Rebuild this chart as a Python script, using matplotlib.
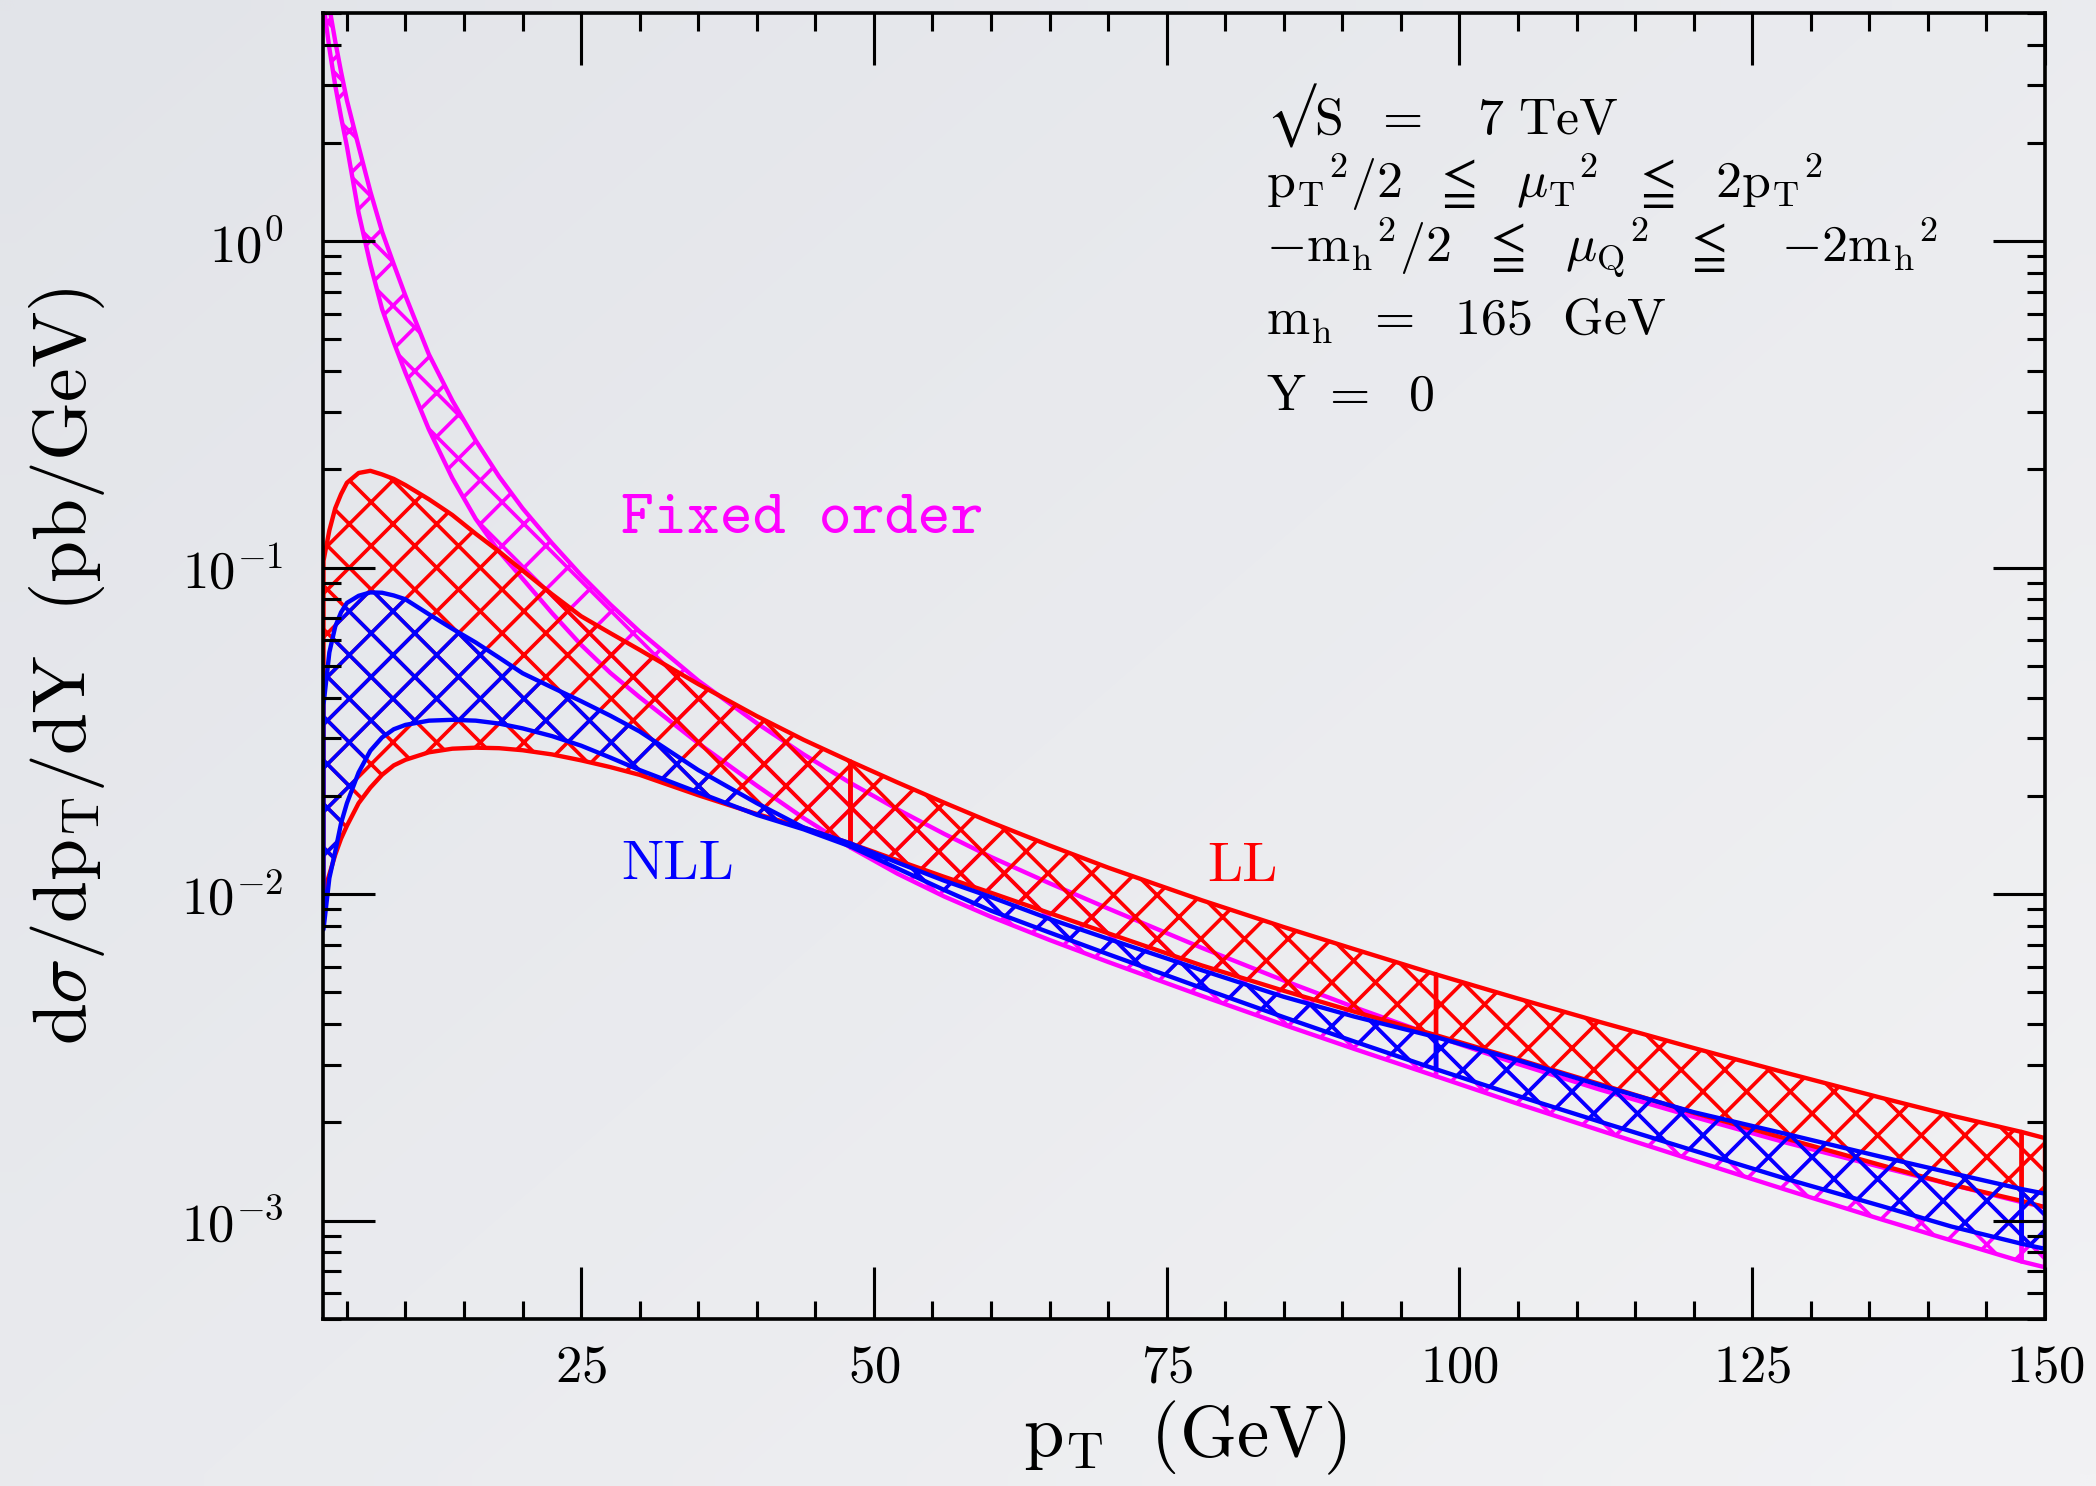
import numpy as np
import matplotlib
matplotlib.use('Agg')
import matplotlib.pyplot as plt
from matplotlib.ticker import MultipleLocator, LogLocator, FuncFormatter, NullFormatter

plt.rcParams['mathtext.fontset'] = 'cm'
plt.rcParams['hatch.linewidth'] = 2.0
plt.rcParams['axes.unicode_minus'] = False

# p_T grid (GeV)
pt = [3, 3.5, 4, 4.5, 5, 6, 7, 8, 9, 10, 12, 14, 16, 18, 20, 22.5, 25, 27.5, 30, 35,
      40, 44, 48, 52, 56, 60, 65, 70, 78, 85, 91, 98, 105, 112, 120, 128, 136, 142, 148, 150]

# fixed order band (pb/GeV)
fo_hi = [7.5, 5.2, 4.1, 3.3, 2.7, 1.95, 1.42, 1.07, 0.85, 0.68, 0.45, 0.325, 0.245, 0.19, 0.152,
         0.119, 0.0948, 0.0771, 0.0637, 0.0451, 0.0334, 0.0268, 0.0219, 0.0182, 0.0153, 0.0130,
         0.0108, 0.00904, 0.00685, 0.00544, 0.00451, 0.00367, 0.00302, 0.00252, 0.00208,
         0.00173, 0.00146, 0.00129, 0.00114, 0.00110]
fo_lo = [5.3, 3.9, 3.0, 2.4, 1.95, 1.22, 0.85, 0.62, 0.49, 0.395, 0.265, 0.188, 0.141, 0.112,
         0.0925, 0.0727, 0.058, 0.0476, 0.0401, 0.029, 0.0215, 0.0171, 0.0139, 0.01156, 0.00984,
         0.00853, 0.00724, 0.0062, 0.00488, 0.00398, 0.00336, 0.00277, 0.00228, 0.00189, 0.00153,
         0.00124, 0.00101, 0.00087, 0.00075, 0.00072]

# LL band
ll_hi = [0.105, 0.130, 0.152, 0.168, 0.182, 0.195, 0.198, 0.193, 0.187, 0.179, 0.162, 0.145,
         0.127, 0.112, 0.098, 0.083, 0.071, 0.063, 0.056, 0.0440, 0.0351, 0.0297, 0.0255,
         0.0220, 0.01907, 0.0166, 0.0141, 0.01206, 0.00958, 0.00793, 0.00679, 0.00568, 0.00479,
         0.00406, 0.00338, 0.00283, 0.00238, 0.00210, 0.00187, 0.00179]
ll_lo = [0.0100, 0.0115, 0.0132, 0.0148, 0.0162, 0.0190, 0.0212, 0.0232, 0.0248, 0.0258,
         0.0272, 0.0279, 0.0281, 0.0280, 0.0276, 0.0268, 0.0257, 0.0245, 0.0232, 0.0201,
         0.0176, 0.0160, 0.0143, 0.0127, 0.0113, 0.0101, 0.00875, 0.00759, 0.00605, 0.00506,
         0.00437, 0.00370, 0.00312, 0.00262, 0.00214, 0.00178, 0.00148, 0.00129, 0.00115, 0.00110]

# NLL band
nll_hi = [0.038, 0.055, 0.066, 0.073, 0.078, 0.082, 0.084, 0.0838, 0.0822, 0.080, 0.072, 0.065,
          0.059, 0.053, 0.0475, 0.043, 0.039, 0.0352, 0.0315, 0.0240, 0.0190, 0.0160, 0.0143,
          0.0125, 0.0110, 0.0098, 0.0084, 0.0073, 0.00585, 0.00485, 0.00422, 0.00365, 0.0031,
          0.0026, 0.00215, 0.00184, 0.00157, 0.00140, 0.00125, 0.00121]
nll_lo = [0.0078, 0.0112, 0.0135, 0.0165, 0.0190, 0.0236, 0.0275, 0.0302, 0.0320, 0.0330,
          0.0340, 0.0342, 0.0340, 0.0333, 0.0322, 0.0305, 0.0285, 0.0262, 0.0240, 0.0205,
          0.0175, 0.0158, 0.0140, 0.0120, 0.0103, 0.0089, 0.00763, 0.00655, 0.00516, 0.0042,
          0.00354, 0.00291, 0.00241, 0.00201, 0.00164, 0.00134, 0.00111, 0.00096, 0.00085, 0.00082]

# the bands are drawn in pieces that join here
seg_edges = [48, 98, 148]

MAGENTA = '#ff00ff'
RED = '#ff0000'
BLUE = '#0000ff'


def draw_band(ax, x, lo, hi, color):
    cuts = [0] + [x.index(e) for e in seg_edges] + [len(x) - 1]
    for a, b in zip(cuts[:-1], cuts[1:]):
        ax.fill_between(x[a:b + 1], lo[a:b + 1], hi[a:b + 1], facecolor='none',
                        edgecolor=color, hatch='x', linewidth=2.4)


fig = plt.figure(figsize=(16, 11.344), dpi=131)

# soft grey backdrop, a little darker towards the top left
bg = fig.add_axes([0, 0, 1, 1], zorder=-10)
gx, gy = np.meshgrid(np.linspace(0, 1, 64), np.linspace(0, 1, 64))
t = np.clip(0.55 * gx + 0.45 * gy, 0, 1)[..., None]
c0 = np.array([226, 228, 233]) / 255
c1 = np.array([242, 242, 244]) / 255
bg.imshow(c0 + (c1 - c0) * t, extent=[0, 1, 0, 1], aspect='auto', origin='upper',
          interpolation='bilinear')
bg.axis('off')

ax = fig.add_axes([0.15434, 0.11238, 0.82133, 0.87887])
ax.set_facecolor('none')

draw_band(ax, pt, fo_lo, fo_hi, MAGENTA)
draw_band(ax, pt, ll_lo, ll_hi, RED)
draw_band(ax, pt, nll_lo, nll_hi, BLUE)

ax.set_yscale('log')
ax.set_xlim(3, 150)
ax.set_ylim(5e-4, 5)

ax.xaxis.set_major_locator(MultipleLocator(25))
ax.xaxis.set_minor_locator(MultipleLocator(5))
ax.xaxis.set_major_formatter(FuncFormatter(lambda v, _: f'${v:g}$'))
ax.yaxis.set_major_locator(LogLocator(base=10))
ax.yaxis.set_minor_locator(LogLocator(base=10, subs=np.arange(2, 10)))
ax.yaxis.set_minor_formatter(NullFormatter())
ax.yaxis.set_major_formatter(FuncFormatter(lambda v, _: f'$10^{{{int(round(np.log10(v)))}}}$'))

ax.tick_params(which='both', direction='in', top=True, right=True, width=1.7, colors='black')
ax.tick_params(which='major', length=28.5, labelsize=29)
ax.tick_params(which='minor', length=10)
ax.tick_params(axis='x', which='major', pad=12)
ax.tick_params(axis='y', which='major', pad=22)
for s in ax.spines.values():
    s.set_linewidth(2.0)

ax.set_xlabel(r'$\mathrm{p_T}\ \ (\mathrm{GeV})$', fontsize=40)
ax.xaxis.set_label_coords(0.5, -0.061)
ax.xaxis.label.set_va('top')
ax.set_ylabel(r'$\mathrm{d}\sigma/\mathrm{dp_T}/\mathrm{dY}\ \ (\mathrm{pb/GeV})$', fontsize=41.5)
ax.yaxis.set_label_coords(-0.126, 0.5)

ax.text(28.4, 0.128, 'Fixed order', color=MAGENTA, fontsize=34.5, fontfamily='cmtt10', va='baseline')
ax.text(28.4, 0.0111, 'NLL', color=BLUE, fontsize=31, fontfamily='cmr10', va='baseline')
ax.text(78.5, 0.0110, 'LL', color=RED, fontsize=31, fontfamily='cmr10', va='baseline')

info = [
    (0.9076, r'$√\mathrm{S}\ \ =\ \ \ 7\ \mathrm{TeV}$'),
    (0.8583, r'$\mathrm{p_T}{}^2/2\ \ \leqq\ \ \mu_\mathrm{T}{}^2\ \ \leqq\ \ 2\mathrm{p_T}{}^2$'),
    (0.8093, r'$-\mathrm{m_h}{}^2/2\ \ \leqq\ \ \mu_\mathrm{Q}{}^2\ \ \leqq\ \ \ {-}2\mathrm{m_h}{}^2$'),
    (0.7534, r'$\mathrm{m_h}\ \ =\ \ 165\ \ \mathrm{GeV}$'),
    (0.6960, r'$\mathrm{Y}\ =\ \ 0$'),
]
for yy, s in info:
    ax.text(0.5475, yy, s, transform=ax.transAxes, fontsize=28.5, va='baseline', ha='left')

fig.savefig('out.png', dpi=131)
